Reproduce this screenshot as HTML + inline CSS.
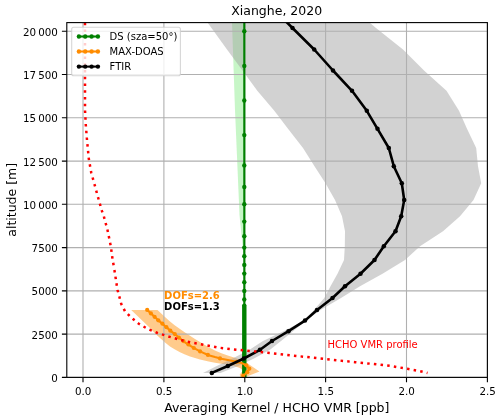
<!DOCTYPE html>
<html><head><meta charset="utf-8"><title>Xianghe, 2020</title>
<style>
html,body{margin:0;padding:0;background:#fff;}
svg{display:block;}
text{font-family:"DejaVu Sans","Liberation Sans",sans-serif;fill:#000;}
.s{font-size:10px;}
.t{font-size:10.3px;}
.l{font-size:12.5px;}
</style></head><body>
<svg width="500" height="420" viewBox="0 0 500 420">
<rect width="500" height="420" fill="#fff"/>
<defs><clipPath id="c"><rect x="66.8" y="22.6" width="420.6" height="354.8"/></clipPath></defs>
<g clip-path="url(#c)">
<path d="M232.0 22.6 L235.0 110.0 L239.5 215.0 L243.5 255.0 L245.0 255.0 L245.5 22.6 Z" fill="#90ee90" fill-opacity="0.5"/>
<path d="M131.2 310.0 L150.0 328.0 L155.0 333.5 L160.0 338.0 L165.0 342.5 L170.0 346.5 L175.0 349.4 L180.0 352.2 L185.0 354.5 L190.0 356.5 L195.0 358.0 L200.0 359.4 L208.6 361.5 L215.0 362.8 L221.4 363.8 L228.0 364.8 L234.0 366.0 L240.0 368.0 L243.0 370.5 L239.7 374.6 L240.5 377.4 L246.5 377.4 L247.5 376.2 L259.5 371.6 L247.0 363.0 L241.4 360.0 L234.0 357.6 L227.8 355.6 L221.4 353.3 L215.0 350.6 L208.6 347.3 L200.0 342.0 L195.0 339.0 L190.0 335.8 L185.0 332.5 L180.0 329.0 L175.0 325.5 L170.0 321.5 L165.0 317.0 L157.5 310.0 Z" fill="#ff8c00" fill-opacity="0.45"/>
<path d="M203.0 372.9 L216.8 366.0 L232.5 358.5 L249.5 349.8 L263.0 341.0 L283.5 331.2 L304.0 320.6 L314.0 310.0 L324.3 298.0 L330.5 286.2 L337.5 273.8 L344.0 260.0 L344.8 246.2 L345.0 231.2 L342.0 216.2 L335.0 200.0 L325.5 183.2 L314.5 166.2 L303.0 148.0 L288.0 128.8 L274.3 110.8 L257.3 90.8 L242.5 70.5 L227.0 49.5 L211.5 28.0 L203.5 17.0 L363.0 17.0 L376.0 28.0 L403.0 49.5 L424.0 70.5 L446.5 90.8 L459.0 110.8 L467.0 128.8 L476.2 148.0 L478.0 166.2 L481.2 183.2 L473.5 200.0 L460.0 216.2 L443.0 231.2 L420.0 246.2 L405.0 260.0 L382.5 273.8 L360.0 286.2 L341.0 298.0 L320.5 310.0 L306.0 320.6 L293.0 331.2 L281.0 341.0 L270.0 349.8 L254.0 358.5 L238.0 366.0 L220.5 372.9 Z" fill="#a0a0a0" fill-opacity="0.47"/>
<path d="M83.0 22.6 V377.4 M163.9 22.6 V377.4 M244.8 22.6 V377.4 M325.6 22.6 V377.4 M406.5 22.6 V377.4 M487.4 22.6 V377.4 M66.8 377.4 H487.4 M66.8 334.1 H487.4 M66.8 290.9 H487.4 M66.8 247.6 H487.4 M66.8 204.3 H487.4 M66.8 161.1 H487.4 M66.8 117.8 H487.4 M66.8 74.5 H487.4 M66.8 31.3 H487.4" stroke="#b0b0b0" stroke-width="1.1" fill="none"/>
<path d="M244.3 377.4 V17.6" stroke="#008000" stroke-width="2.1" fill="none"/>
<path d="M244.3 380.4 V306.7" stroke="#008000" stroke-width="4.4" stroke-linecap="round" fill="none"/>
<g fill="#008000"><circle cx="244.3" cy="31.3" r="2.2"/><circle cx="244.3" cy="65.9" r="2.2"/><circle cx="244.3" cy="100.5" r="2.2"/><circle cx="244.3" cy="135.1" r="2.2"/><circle cx="244.3" cy="165.4" r="2.2"/><circle cx="244.3" cy="187.0" r="2.2"/><circle cx="244.3" cy="204.3" r="2.2"/><circle cx="244.3" cy="221.6" r="2.2"/><circle cx="244.3" cy="236.3" r="2.2"/><circle cx="244.3" cy="247.6" r="2.2"/><circle cx="244.3" cy="256.3" r="2.2"/><circle cx="244.3" cy="264.9" r="2.2"/><circle cx="244.3" cy="273.6" r="2.2"/><circle cx="244.3" cy="282.2" r="2.2"/><circle cx="244.3" cy="290.9" r="2.2"/><circle cx="244.3" cy="299.5" r="2.2"/><circle cx="244.3" cy="305.6" r="2.2"/></g>
<path d="M147.2 309.9 L157.5 319.6 L165.0 326.0 L170.0 330.4 L175.0 334.3 L180.0 338.5 L185.0 342.3 L190.0 345.6 L195.0 348.7 L200.0 351.4 L208.6 355.2 L215.0 357.1 L221.4 358.7 L227.8 360.0 L234.0 361.2 L241.5 363.0 L246.3 365.3 L249.3 368.7 L247.3 372.2 L243.2 375.7" stroke="#ff8c00" stroke-width="2.1" fill="none" stroke-linejoin="round"/>
<g fill="#ff8c00"><circle cx="147.2" cy="309.9" r="2.1"/><circle cx="150.9" cy="313.4" r="2.1"/><circle cx="154.6" cy="316.8" r="2.1"/><circle cx="158.3" cy="320.3" r="2.1"/><circle cx="162.4" cy="323.7" r="2.1"/><circle cx="166.4" cy="327.2" r="2.1"/><circle cx="170.3" cy="330.7" r="2.1"/><circle cx="174.8" cy="334.1" r="2.1"/><circle cx="178.9" cy="337.6" r="2.1"/><circle cx="183.4" cy="341.1" r="2.1"/><circle cx="188.4" cy="344.5" r="2.1"/><circle cx="193.8" cy="348.0" r="2.1"/><circle cx="200.1" cy="351.4" r="2.1"/><circle cx="207.9" cy="354.9" r="2.1"/><circle cx="220.0" cy="358.4" r="2.1"/><circle cx="236.6" cy="361.8" r="2.1"/><circle cx="246.3" cy="365.3" r="2.1"/><circle cx="249.3" cy="368.7" r="2.1"/><circle cx="247.3" cy="372.2" r="2.1"/><circle cx="243.2" cy="375.7" r="2.1"/></g>
<path d="M211.8 372.9 L227.8 366.0 L243.8 358.5 L260.0 349.8 L272.0 341.0 L288.5 331.2 L305.0 320.6 L317.0 310.0 L332.5 298.0 L345.0 286.2 L360.5 273.8 L374.5 260.0 L383.8 246.2 L395.5 231.2 L401.2 216.2 L404.2 200.0 L401.8 183.2 L393.8 166.2 L388.8 148.0 L377.5 128.8 L366.8 110.8 L352.0 90.8 L333.0 70.5 L314.2 49.5 L292.5 28.0 L281.5 17.0" stroke="#000" stroke-width="2.6" fill="none" stroke-linejoin="round"/>
<g fill="#000"><circle cx="211.8" cy="372.9" r="2.25"/><circle cx="227.8" cy="366.0" r="2.25"/><circle cx="243.8" cy="358.5" r="2.25"/><circle cx="260.0" cy="349.8" r="2.25"/><circle cx="272.0" cy="341.0" r="2.25"/><circle cx="288.5" cy="331.2" r="2.25"/><circle cx="305.0" cy="320.6" r="2.25"/><circle cx="317.0" cy="310.0" r="2.25"/><circle cx="332.5" cy="298.0" r="2.25"/><circle cx="345.0" cy="286.2" r="2.25"/><circle cx="360.5" cy="273.8" r="2.25"/><circle cx="374.5" cy="260.0" r="2.25"/><circle cx="383.8" cy="246.2" r="2.25"/><circle cx="395.5" cy="231.2" r="2.25"/><circle cx="401.2" cy="216.2" r="2.25"/><circle cx="404.2" cy="200.0" r="2.25"/><circle cx="401.8" cy="183.2" r="2.25"/><circle cx="393.8" cy="166.2" r="2.25"/><circle cx="388.8" cy="148.0" r="2.25"/><circle cx="377.5" cy="128.8" r="2.25"/><circle cx="366.8" cy="110.8" r="2.25"/><circle cx="352.0" cy="90.8" r="2.25"/><circle cx="333.0" cy="70.5" r="2.25"/><circle cx="314.2" cy="49.5" r="2.25"/><circle cx="292.5" cy="28.0" r="2.25"/><circle cx="281.5" cy="17.0" r="2.25"/></g>
<path d="M85.0 22.7 L85.0 110.0 L85.8 125.0 L87.0 140.0 L88.8 158.8 L91.2 172.5 L95.0 186.2 L98.8 200.0 L102.0 211.2 L103.8 216.2 L107.5 230.0 L110.8 246.2 L112.5 258.8 L114.1 268.0" stroke="#ff0000" stroke-width="2.5" stroke-dasharray="2.5 4.256" fill="none"/>
<path d="M114.4 270.0 L115.0 273.8 L117.5 290.0 L118.8 294.5 L121.2 303.8 L125.0 311.2 L131.2 317.5 L138.8 323.8 L147.5 328.8 L157.5 333.0 L167.5 336.2 L178.8 339.5 L191.2 342.5 L205.0 345.0 L217.5 347.5 L232.5 349.3 L245.0 350.5 L267.5 352.7 L292.5 355.5 L317.5 358.2 L337.5 360.3 L355.0 362.2 L372.5 363.9 L390.0 365.9 L407.5 368.8 L420.0 371.2 L427.5 373.0" stroke="#ff0000" stroke-width="2.5" stroke-dasharray="2.5 4.2" fill="none"/>
</g>
<rect x="66.8" y="22.6" width="420.6" height="354.8" fill="none" stroke="#000" stroke-width="1.1"/>
<path d="M83.0 377.4 v4.9 M163.9 377.4 v4.9 M244.8 377.4 v4.9 M325.6 377.4 v4.9 M406.5 377.4 v4.9 M487.4 377.4 v4.9 M66.8 377.4 h-4.9 M66.8 334.1 h-4.9 M66.8 290.9 h-4.9 M66.8 247.6 h-4.9 M66.8 204.3 h-4.9 M66.8 161.1 h-4.9 M66.8 117.8 h-4.9 M66.8 74.5 h-4.9 M66.8 31.3 h-4.9" stroke="#000" stroke-width="1.1" fill="none"/>
<text class="t" x="83.2" y="394.9" text-anchor="middle">0.0</text>
<text class="t" x="164.1" y="394.9" text-anchor="middle">0.5</text>
<text class="t" x="245.0" y="394.9" text-anchor="middle">1.0</text>
<text class="t" x="325.8" y="394.9" text-anchor="middle">1.5</text>
<text class="t" x="406.7" y="394.9" text-anchor="middle">2.0</text>
<text class="t" x="487.6" y="394.9" text-anchor="middle">2.5</text>
<text class="t" x="57.8" y="381.8" text-anchor="end">0</text>
<text class="t" x="57.8" y="338.5" text-anchor="end">2500</text>
<text class="t" x="57.8" y="295.3" text-anchor="end">5000</text>
<text class="t" x="57.8" y="252.0" text-anchor="end">7500</text>
<text class="t" x="57.8" y="208.7" text-anchor="end">10 000</text>
<text class="t" x="57.8" y="165.5" text-anchor="end">12 500</text>
<text class="t" x="57.8" y="122.2" text-anchor="end">15 000</text>
<text class="t" x="57.8" y="78.9" text-anchor="end">17 500</text>
<text class="t" x="57.8" y="35.7" text-anchor="end">20 000</text>
<text class="l" x="276.7" y="14.5" text-anchor="middle">Xianghe, 2020</text>
<text class="l" x="276.8" y="412" text-anchor="middle">Averaging Kernel / HCHO VMR [ppb]</text>
<text class="l" transform="translate(16.2 199.8) rotate(-90)" text-anchor="middle">altitude [m]</text>
<text class="s" x="164.1" y="299.2" font-weight="bold" style="fill:#ff8c00">DOFs=2.6</text>
<text class="s" x="164.1" y="309.6" font-weight="bold">DOFs=1.3</text>
<text class="s" x="327.5" y="348" style="fill:#ff0000">HCHO VMR profile</text>
<rect x="71.7" y="27.3" width="108.7" height="48.5" rx="2" ry="2" fill="#fff" fill-opacity="0.8" stroke="#ccc" stroke-opacity="0.8" stroke-width="1.1"/>
<path d="M78 36.5 H99" stroke="#008000" stroke-width="2.1" fill="none"/>
<g fill="#008000"><circle cx="78.9" cy="36.5" r="2.2"/><circle cx="85.2" cy="36.5" r="2.2"/><circle cx="91.6" cy="36.5" r="2.2"/><circle cx="97.9" cy="36.5" r="2.2"/></g>
<text class="s" x="109.6" y="39.5">DS (sza=50°)</text>
<path d="M78 51.5 H99" stroke="#ff8c00" stroke-width="2.1" fill="none"/>
<g fill="#ff8c00"><circle cx="78.9" cy="51.5" r="2.2"/><circle cx="85.2" cy="51.5" r="2.2"/><circle cx="91.6" cy="51.5" r="2.2"/><circle cx="97.9" cy="51.5" r="2.2"/></g>
<text class="s" x="109.6" y="54.7">MAX-DOAS</text>
<path d="M78 66.6 H99" stroke="#000" stroke-width="2.1" fill="none"/>
<g fill="#000"><circle cx="78.9" cy="66.6" r="2.2"/><circle cx="85.2" cy="66.6" r="2.2"/><circle cx="91.6" cy="66.6" r="2.2"/><circle cx="97.9" cy="66.6" r="2.2"/></g>
<text class="s" x="109.6" y="69.7">FTIR</text>
</svg></body></html>
